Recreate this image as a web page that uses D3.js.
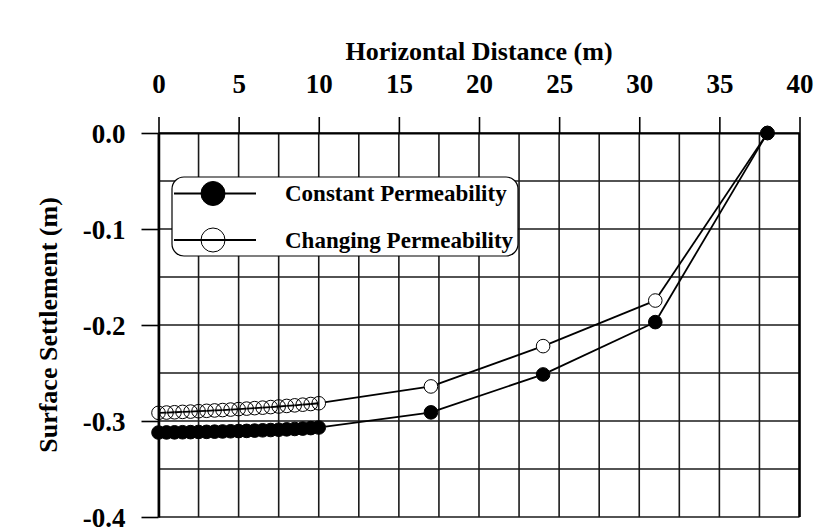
<!DOCTYPE html>
<html>
<head>
<meta charset="utf-8">
<script src="https://cdn.jsdelivr.net/npm/d3@7"></script>
<style>
  html, body { margin: 0; padding: 0; background: #fff; }
  svg { display: block; }
  text { font-family: "Liberation Serif", "Times New Roman", serif; font-weight: bold; fill: #000; }
</style>
</head>
<body>
<svg id="chart" width="818" height="531"></svg>
<script>
// Horizontal distance of each surface point (m)
const distance = [0, 0.5, 1, 1.5, 2, 2.5, 3, 3.5, 4, 4.5, 5, 5.5, 6, 6.5, 7, 7.5, 8, 8.5, 9, 9.5, 10, 17, 24, 31, 38];

// Surface settlement (m) for each model
const constantPerm = [-0.3120, -0.3119, -0.3118, -0.3117, -0.3116, -0.3114, -0.3113, -0.3111, -0.3109, -0.3107,
                      -0.3105, -0.3103, -0.3100, -0.3097, -0.3094, -0.3091, -0.3087, -0.3083, -0.3079, -0.3074,
                      -0.3068, -0.2910, -0.2515, -0.1970, 0.0];
const changingPerm = [-0.2915, -0.2912, -0.2909, -0.2905, -0.2902, -0.2898, -0.2894, -0.2890, -0.2886, -0.2881,
                      -0.2876, -0.2871, -0.2866, -0.2861, -0.2855, -0.2849, -0.2843, -0.2837, -0.2830, -0.2823,
                      -0.2815, -0.2640, -0.2220, -0.1745, 0.0];

const seriesNames = ["Constant Permeability", "Changing Permeability"];
const xTicks = [0, 5, 10, 15, 20, 25, 30, 35, 40];
const yTicks = [0.0, -0.1, -0.2, -0.3, -0.4];

const svg = d3.select("#chart");
const x = d3.scaleLinear().domain([0, 40]).range([158.5, 799.5]);
const y = d3.scaleLinear().domain([0, -0.4]).range([133, 517]);

// grid: every 2.5 m and every 0.05 m
const grid = svg.append("g").attr("stroke", "#1a1a1a").attr("stroke-width", 1.6);
d3.range(0, 40.01, 2.5).forEach(v => {
  grid.append("line").attr("x1", x(v)).attr("x2", x(v)).attr("y1", y(0)).attr("y2", y(-0.4));
});
d3.range(0, 0.4001, 0.05).forEach(v => {
  grid.append("line").attr("x1", x(0)).attr("x2", x(40)).attr("y1", y(-v)).attr("y2", y(-v));
});
// heavier right edge
svg.append("line").attr("x1", x(40)).attr("x2", x(40)).attr("y1", y(0)).attr("y2", y(-0.4))
  .attr("stroke", "#000").attr("stroke-width", 2.5);

// top distance axis
const xAxis = svg.append("g").attr("transform", `translate(0,${y(0)})`)
  .call(d3.axisTop(x).tickValues(xTicks).tickSize(16).tickSizeOuter(0).tickPadding(24).tickFormat(d3.format("d")));
xAxis.selectAll("line").attr("stroke", "#000").attr("stroke-width", 1.6);
xAxis.select(".domain").attr("stroke", "#000").attr("stroke-width", 2);
xAxis.selectAll("text").attr("font-size", 27).attr("font-family", null).attr("fill", "#000");

// left settlement axis
const yAxis = svg.append("g").attr("transform", `translate(${x(0)},0)`)
  .call(d3.axisLeft(y).tickValues(yTicks).tickSize(17).tickSizeOuter(0).tickPadding(16).tickFormat(d => d.toFixed(1)));
yAxis.selectAll("line").attr("stroke", "#000").attr("stroke-width", 1.6);
yAxis.select(".domain").attr("stroke", "#000").attr("stroke-width", 2.5);
yAxis.selectAll("text").attr("font-size", 27).attr("font-family", null).attr("fill", "#000").attr("dy", "0.34em");

// titles
svg.append("text").attr("x", (x(0) + x(40)) / 2).attr("y", 60).attr("text-anchor", "middle")
  .attr("font-size", 26).text("Horizontal Distance (m)");
svg.append("text").attr("transform", `translate(57,${(y(0) + y(-0.4)) / 2}) rotate(-90)`)
  .attr("text-anchor", "middle").attr("font-size", 26).text("Surface Settlement (m)");

// series lines: segments stop at the marker edge where points are far apart
const r = 6.8;
function drawSeries(values, filled) {
  const pts = distance.map((d, i) => [x(d), y(values[i])]);
  const g = svg.append("g");
  for (let i = 0; i < pts.length - 1; i++) {
    const [x1, y1] = pts[i], [x2, y2] = pts[i + 1];
    const len = Math.hypot(x2 - x1, y2 - y1);
    let t = 0;
    if (len > 2 * r + 2) t = r / len;
    g.append("line")
      .attr("x1", x1 + (x2 - x1) * t).attr("y1", y1 + (y2 - y1) * t)
      .attr("x2", x2 - (x2 - x1) * t).attr("y2", y2 - (y2 - y1) * t)
      .attr("stroke", "#000").attr("stroke-width", 1.8);
  }
  g.selectAll("circle").data(pts).join("circle")
    .attr("cx", d => d[0]).attr("cy", d => d[1]).attr("r", r)
    .attr("fill", filled ? "#000" : "none").attr("stroke", "#000").attr("stroke-width", 1);
}
drawSeries(changingPerm, false);
drawSeries(constantPerm, true);

// legend
const lg = svg.append("g");
lg.append("rect").attr("x", 172).attr("y", 177).attr("width", 346).attr("height", 79)
  .attr("rx", 12).attr("fill", "#fff").attr("stroke", "#000").attr("stroke-width", 1.2);
seriesNames.forEach((name, i) => {
  const cy = 193.5 + i * 46.5;
  lg.append("line").attr("x1", 174).attr("x2", 256).attr("y1", cy).attr("y2", cy)
    .attr("stroke", "#000").attr("stroke-width", 1.8);
  lg.append("circle").attr("cx", 213).attr("cy", cy).attr("r", 12)
    .attr("fill", i === 0 ? "#000" : "none").attr("stroke", "#000").attr("stroke-width", 1);
  lg.append("text").attr("x", 285).attr("y", cy + 7.5).attr("font-size", 23).text(name);
});
</script>
</body>
</html>
